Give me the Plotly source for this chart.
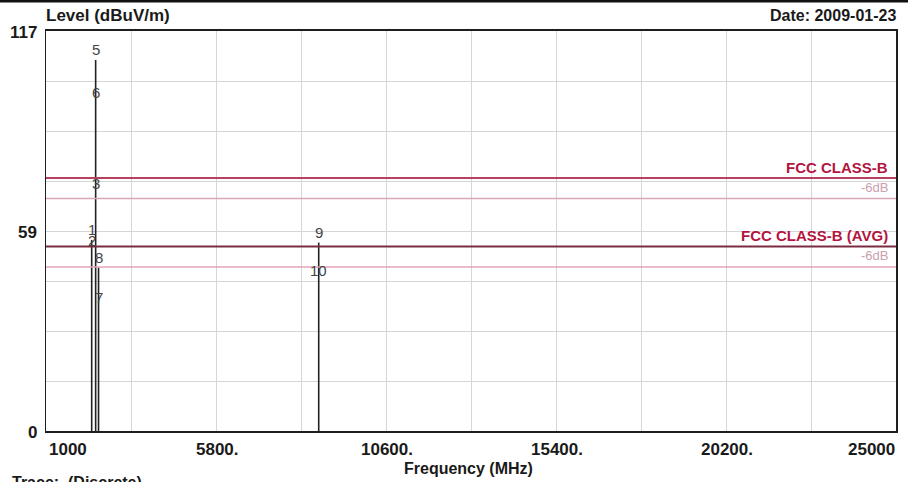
import plotly.graph_objects as go

# ---- data ----
marker_ids = ["1", "2", "3", "5", "6", "7", "8", "9", "10"]
marker_freq = [2290, 2290, 2402, 2402, 2402, 2483.5, 2483.5, 8700, 8700]
marker_level = [55.9, 52.7, 69.4, 108.5, 95.9, 36.1, 47.8, 55.1, 43.9]

limit_names = ["FCC CLASS-B", "FCC CLASS-B (AVG)"]
limit_levels = [74, 54]
limit_colors = ["#b8405c", "#7a2c42"]
margin_db = 6
margin_colors = ["#d8a6b4", "#e2a4b8"]

x_ticks = [1000, 5800, 10600, 15400, 20200, 25000]
x_tick_text = ["1000", "5800.", "10600.", "15400.", "20200.", "25000"]
y_ticks = [0, 58.5, 117]
y_tick_text = ["0", "59", "117"]

x_range = [1000, 25000]
y_range = [0, 117]

FONT = "Liberation Sans, Arial, sans-serif"

fig = go.Figure()

# stems: one vertical line per frequency up to the highest reading there
stem_top = {}
for f, v in zip(marker_freq, marker_level):
    stem_top[f] = max(stem_top.get(f, 0), v)
sx, sy = [], []
for f, v in stem_top.items():
    sx += [f, f, None]
    sy += [0, v, None]
fig.add_trace(go.Scatter(x=sx, y=sy, mode="lines",
                         line=dict(color="#222222", width=1.6),
                         hoverinfo="skip", showlegend=False))

shapes = []
annotations = []

# limit lines and their -6dB margins
for name, lv, lc, mc in zip(limit_names, limit_levels, limit_colors, margin_colors):
    shapes.append(dict(type="line", xref="x domain", x0=0, x1=1, yref="y",
                       y0=lv, y1=lv, line=dict(color=lc, width=2), layer="above"))
    shapes.append(dict(type="line", xref="x domain", x0=0, x1=1, yref="y",
                       y0=lv - margin_db, y1=lv - margin_db,
                       line=dict(color=mc, width=1.5), layer="above"))
    annotations.append(dict(text="<b>%s</b>" % name, xref="x domain", x=0.993,
                            xanchor="right", yref="y", y=lv, yanchor="middle",
                            yshift=11, showarrow=False,
                            font=dict(family=FONT, size=15, color="#b3153f")))
    annotations.append(dict(text="-%ddB" % margin_db, xref="x domain", x=0.993,
                            xanchor="right", yref="y", y=lv - margin_db,
                            yanchor="middle", yshift=11, showarrow=False,
                            font=dict(family=FONT, size=13, color="#caa0ab")))

# marker labels
for mid, f, v in zip(marker_ids, marker_freq, marker_level):
    annotations.append(dict(text=mid, x=f, y=v, xref="x", yref="y",
                            yshift=10.5, yanchor="middle", showarrow=False,
                            font=dict(family=FONT, size=15, color="#444444")))

# x tick labels
for i, (t, txt) in enumerate(zip(x_ticks, x_tick_text)):
    anchor = "left" if i == 0 else ("right" if i == len(x_ticks) - 1 else "center")
    annotations.append(dict(text="<b>%s</b>" % txt, x=t, xref="x", yref="paper",
                            y=0, yanchor="middle", yshift=-18, xanchor=anchor,
                            xshift=1, showarrow=False,
                            font=dict(family=FONT, size=17, color="#1a1a1a")))
# y tick labels
for t, txt in zip(y_ticks, y_tick_text):
    annotations.append(dict(text="<b>%s</b>" % txt, x=0, xref="paper", xanchor="right",
                            xshift=-7, y=t, yref="y", yanchor="middle", yshift=-1,
                            showarrow=False,
                            font=dict(family=FONT, size=17, color="#1a1a1a")))

annotations += [
    dict(text="<b>Level (dBuV/m)</b>", xref="paper", x=0, xanchor="left", xshift=-2,
         yref="paper", y=1, yanchor="middle", yshift=16, showarrow=False,
         font=dict(family=FONT, size=17, color="#1a1a1a")),
    dict(text="<b>Date: 2009-01-23</b>", xref="paper", x=1, xanchor="right", xshift=2,
         yref="paper", y=1, yanchor="middle", yshift=16, showarrow=False,
         font=dict(family=FONT, size=16, color="#1a1a1a")),
    dict(text="<b>Frequency (MHz)</b>", xref="paper", x=0.497, xanchor="center",
         yref="paper", y=0, yanchor="middle", yshift=-37, showarrow=False,
         font=dict(family=FONT, size=16, color="#1a1a1a")),
    dict(text="<b>Trace:  (Discrete)</b>", xref="paper", x=0, xanchor="left", xshift=-36,
         yref="paper", y=0, yanchor="middle", yshift=-51, showarrow=False,
         font=dict(family=FONT, size=16, color="#1a1a1a")),
]

# thin dark band across the very top of the picture
shapes.append(dict(type="rect", xref="paper", x0=-0.1, x1=1.1, yref="paper",
                   y0=1 + 28.5 / 400, y1=1 + 32 / 400, fillcolor="#111111",
                   line=dict(width=0), layer="above"))

fig.update_layout(
    width=908, height=482,
    margin=dict(l=46, r=12, t=31, b=51, autoexpand=False),
    paper_bgcolor="white", plot_bgcolor="white",
    showlegend=False,
    shapes=shapes, annotations=annotations,
    xaxis=dict(range=x_range, tick0=1000, dtick=2400, showticklabels=False,
               showgrid=True, gridcolor="#d6d6d6", gridwidth=1, zeroline=False,
               showline=True, mirror=True, linecolor="#1e1e1e", linewidth=2,
               ticks=""),
    yaxis=dict(range=y_range, tick0=0, dtick=14.625, showticklabels=False,
               showgrid=True, gridcolor="#d6d6d6", gridwidth=1, zeroline=False,
               showline=True, mirror=True, linecolor="#1e1e1e", linewidth=1.5,
               ticks=""),
)

fig.write_html("out.html",
               config={"displayModeBar": False, "staticPlot": True},
               post_script="document.body.style.margin='0';document.body.style.overflow='hidden';")
